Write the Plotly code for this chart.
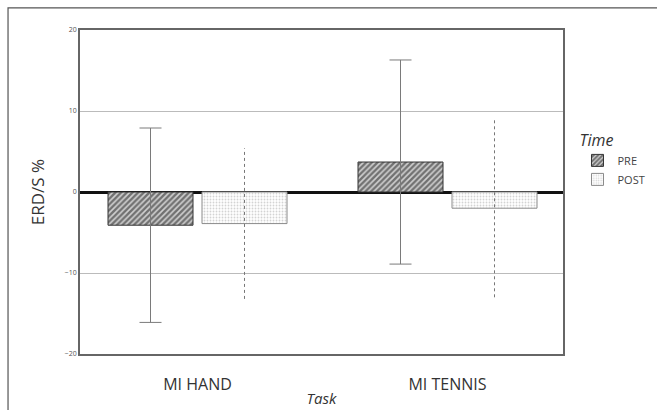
import plotly.graph_objects as go

# Group means and error half-widths (ERD/S %)
tasks = ["MI HAND", "MI TENNIS"]
times = ["PRE", "POST"]
pre_mean = [-4.1, 3.7]
pre_err = [12.0, 12.6]
post_mean = [-3.9, -2.0]
post_err = [9.3, 11.0]
y_ticks = [-20, -10, 0, 10, 20]

BAR_W = 0.34
OFFSET = 0.188
group_x = list(range(len(tasks)))
pre_x = [g - OFFSET for g in group_x]
post_x = [g + OFFSET for g in group_x]

fig = go.Figure()

fig.add_trace(go.Bar(
    x=pre_x, y=pre_mean, width=BAR_W, name=times[0],
    marker=dict(color="white",
                line=dict(color="#333333", width=1),
                pattern=dict(shape="/", fgcolor="#111111", bgcolor="#d0d0d0",
                             size=4, solidity=0.6)),
    error_y=dict(type="data", array=pre_err, visible=True,
                 color="#7a7a7a", thickness=1, width=11),
))

fig.add_trace(go.Bar(
    x=post_x, y=post_mean, width=BAR_W, name=times[1],
    marker=dict(color="white",
                line=dict(color="#8a8a8a", width=1),
                pattern=dict(shape=".", fgcolor="#a8a8a8", bgcolor="white",
                             size=3, solidity=0.3)),
))

# Dotted whiskers for POST
for x, m, e in zip(post_x, post_mean, post_err):
    fig.add_trace(go.Scatter(
        x=[x, x], y=[m - e, m + e], mode="lines", showlegend=False,
        line=dict(color="#777777", width=1, dash="dot"), hoverinfo="skip",
    ))

fig.update_layout(
    width=657, height=410,
    margin=dict(l=80, r=94, t=30, b=56, autoexpand=False),
    paper_bgcolor="white", plot_bgcolor="white",
    barmode="overlay",
    font=dict(family="Open Sans, sans-serif", color="#333333"),
    legend=dict(
        title=dict(text="<i>Time</i>", font=dict(size=16, color="#333333")),
        x=1.03, y=0.6, xanchor="left", yanchor="middle",
        font=dict(size=11, color="#444444"),
        itemwidth=30, tracegroupgap=0,
    ),
    xaxis=dict(
        range=[-0.47, 1.462], tickvals=group_x, ticktext=tasks,
        tickfont=dict(size=16, color="#333333"), ticks="",
        ticklabelstandoff=15, automargin=False,
        showgrid=False, zeroline=False,
        showline=True, linecolor="#666666", linewidth=1.5, mirror=True,
        title=dict(text="<i>Task</i>", font=dict(size=15, color="#333333"), standoff=0),
    ),
    yaxis=dict(
        range=[-20, 20], tickvals=y_ticks, automargin=False,
        tickfont=dict(size=7, color="#555555"), ticks="",
        showgrid=True, gridcolor="#bbbbbb", gridwidth=1,
        zeroline=True, zerolinecolor="#111111", zerolinewidth=2.5,
        showline=True, linecolor="#666666", linewidth=1.5, mirror=True,
        title=dict(text="ERD/S %", font=dict(size=17, color="#333333"), standoff=16),
    ),
    shapes=[dict(type="rect", xref="paper", yref="paper",
                 x0=-0.149, x1=1.4, y0=-0.3, y1=1.068,
                 line=dict(color="#555555", width=1.2), layer="below")],
)

fig.write_html("out.html")
